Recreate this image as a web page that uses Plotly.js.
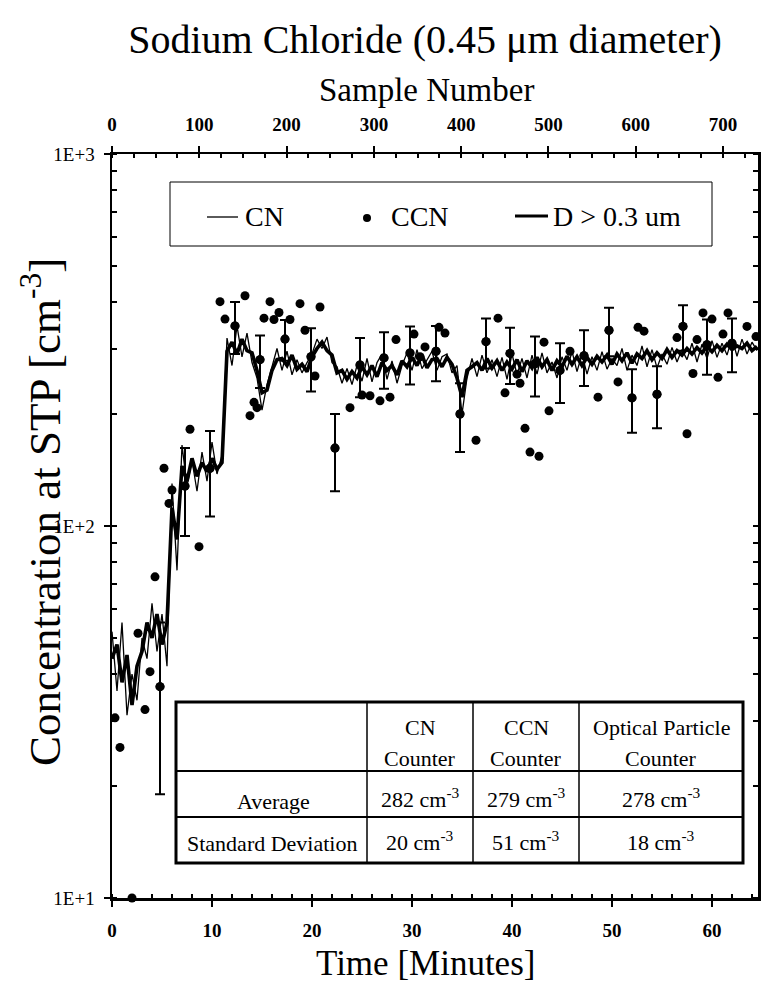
<!DOCTYPE html>
<html>
<head>
<meta charset="utf-8">
<script src="https://cdn.plot.ly/plotly-3.0.1.min.js"></script>
<style>
  html, body { margin: 0; padding: 0; background: #fff; }
  #chart { width: 761px; height: 990px; }
</style>
</head>
<body>
<div id="chart"></div>
<script>
// ---------------- DATA ----------------
// Time grid of the two continuous records (minutes, every 0.5 min)
const lineTime = Array.from({length: 130}, (_, i) => i * 0.5);

// CN counter (thin line), cm^-3
const cnValues = [
  52, 36, 55, 31, 40, 34, 50, 44, 62, 46,
  58, 42, 130, 76, 165, 128, 150, 124, 158, 132,
  168, 138, 155, 320, 270, 345, 285, 330, 275, 250,
  205, 240, 268, 300, 262, 295, 255, 280, 258, 275,
  290, 318, 300, 322, 275, 268, 242, 265, 240, 270,
  245, 282, 244, 275, 290, 248, 278, 242, 270, 292,
  262, 298, 265, 280, 295, 262, 285, 290, 258, 270,
  200, 250, 282, 252, 288, 258, 280, 252, 284, 248,
  290, 255, 282, 250, 288, 256, 292, 258, 276, 250,
  285, 262, 295, 260, 290, 256, 285, 262, 294, 264,
  282, 270, 300, 262, 288, 270, 305, 268, 298, 266,
  290, 272, 302, 276, 298, 280, 310, 276, 308, 282,
  315, 284, 310, 288, 320, 286, 318, 290, 312, 296
];

// Optical particle counter, D > 0.3 um (thick line), cm^-3
const opcValues = [
  44, 48, 38, 45, 33, 42, 46, 55, 50, 58,
  48, 55, 112, 92, 145, 132, 152, 136, 148, 140,
  152, 142, 148, 295, 312, 290, 318, 296, 292, 262,
  228, 232, 262, 280, 282, 270, 288, 264, 272, 260,
  285, 300, 312, 296, 288, 258, 262, 248, 260, 250,
  268, 255, 270, 252, 275, 262, 270, 255, 278, 268,
  284, 270, 288, 266, 280, 282, 268, 284, 272, 250,
  222, 262, 268, 275, 262, 282, 266, 278, 262, 276,
  264, 280, 260, 278, 266, 284, 268, 280, 262, 278,
  268, 286, 272, 285, 270, 284, 272, 286, 276, 288,
  272, 290, 278, 292, 274, 290, 282, 296, 280, 292,
  282, 298, 284, 296, 288, 300, 290, 302, 292, 304,
  294, 306, 296, 308, 298, 305, 300, 310, 296, 304
];

// CCN counter samples (dots); ccnErr = error-bar half length (0 = no bar)
const ccnTime = [
  0.3, 0.8, 2.0, 2.6, 3.3, 3.8, 4.3, 4.8, 5.2, 5.7, 6.0, 7.3, 7.8, 8.7, 9.8,
  10.8, 11.3, 12.3, 13.3, 13.8, 14.2, 14.5, 14.8, 15.2, 15.8, 16.2, 16.7, 17.3, 17.8,
  18.8, 19.3, 19.9, 20.3, 20.8, 22.3, 23.8, 24.8, 25.0, 25.8, 26.8, 27.2, 27.8, 28.4,
  29.8, 30.2, 30.8, 31.3, 32.4, 32.7, 33.3, 34.8, 36.4, 37.4, 38.6, 39.3, 39.8, 40.5,
  40.8, 41.3, 41.8, 42.3, 42.7, 43.2, 43.7, 44.8, 45.8, 47.2, 48.6, 49.7, 50.6, 52.0,
  52.6, 53.2, 54.5, 56.5, 57.1, 57.5, 58.1, 58.5, 59.1, 59.5, 60.0, 60.6, 61.1, 61.6,
  62.0, 63.5, 64.4
];
const ccnValue = [
  30.5, 25.4, 10, 51.5, 32.1, 40.6, 73, 37, 143, 115, 125, 128, 182, 88, 143,
  401, 360, 345, 416, 198, 215, 208, 280, 362, 401, 359, 375, 318, 359,
  396, 336, 285, 253, 388, 162, 208, 271, 225, 224, 217, 283, 222, 317,
  292, 328, 285, 303, 295, 342, 330, 200, 170, 313, 362, 228, 291, 256,
  242, 183, 158, 273, 154, 312, 204, 262, 295, 287, 222, 336, 244, 221,
  342, 334, 226, 321, 344, 177, 257, 317, 374, 307, 360, 251, 328, 374,
  310, 344, 323
];
const ccnErr = [
  0, 0, 0, 0, 0, 0, 0, 18, 0, 0, 0, 34, 0, 0, 37,
  0, 0, 55, 0, 0, 0, 0, 45, 0, 0, 0, 0, 40, 0,
  0, 0, 55, 0, 0, 38, 0, 49, 0, 0, 0, 49, 0, 0,
  52, 0, 0, 0, 50, 0, 0, 42, 0, 48, 0, 0, 50, 0,
  0, 0, 0, 50, 0, 0, 0, 48, 0, 49, 0, 50, 0, 43,
  0, 0, 43, 0, 48, 0, 0, 0, 0, 52, 0, 0, 0, 0,
  51, 0, 0
];

// Summary table
const tableColumns = [["CN", "Counter"], ["CCN", "Counter"], ["Optical Particle", "Counter"]];
const tableRowLabels = ["Average", "Standard Deviation"];
const tableAverage = [282, 279, 278];
const tableStdDev = [20, 51, 18];

// Axis ticks
const timeTicks = [0, 10, 20, 30, 40, 50, 60];
const sampleTicks = [0, 100, 200, 300, 400, 500, 600, 700];
const concTicks = [10, 100, 1000];
const concTickText = ["1E+1", "1E+2", "1E+3"];

// ---------------- LAYOUT HELPERS ----------------
const W = 761, H = 990;
const L = 112, R = 758, T = 154, B = 898;
const px = x => (x - L) / (R - L);
const py = y => (B - y) / (B - T);
const SERIF = "Liberation Serif, Times New Roman, serif";

const barIdx = ccnErr.map((e, i) => e > 0 ? i : -1).filter(i => i >= 0);

const traces = [
  {
    x: lineTime, y: cnValues, type: 'scatter', mode: 'lines', name: 'CN',
    line: {color: '#000', width: 1.3}, showlegend: false, xaxis: 'x', yaxis: 'y'
  },
  {
    x: lineTime, y: opcValues, type: 'scatter', mode: 'lines', name: 'D > 0.3 um',
    line: {color: '#000', width: 3.6}, showlegend: false, xaxis: 'x', yaxis: 'y'
  },
  {
    x: barIdx.map(i => ccnTime[i]), y: barIdx.map(i => ccnValue[i]),
    type: 'scatter', mode: 'markers', name: 'CCN error',
    marker: {color: '#000', size: 9},
    error_y: {type: 'data', array: barIdx.map(i => ccnErr[i]), visible: true,
              color: '#000', thickness: 2, width: 5},
    showlegend: false, xaxis: 'x', yaxis: 'y'
  },
  {
    x: ccnTime, y: ccnValue, type: 'scatter', mode: 'markers', name: 'CCN',
    marker: {color: '#000', size: 9}, cliponaxis: false,
    showlegend: false, xaxis: 'x', yaxis: 'y'
  },
  // invisible trace to activate the top (sample number) axis
  {
    x: [0, 740], y: [null, null], type: 'scatter', mode: 'markers',
    xaxis: 'x2', yaxis: 'y', showlegend: false, hoverinfo: 'skip'
  }
];

const shapes = [];
const annotations = [];

// Legend box
shapes.push({type: 'rect', xref: 'paper', yref: 'paper',
  x0: px(170), x1: px(712), y0: py(246), y1: py(182),
  line: {color: '#000', width: 1}, fillcolor: '#fff', layer: 'above'});
shapes.push({type: 'line', xref: 'paper', yref: 'paper',
  x0: px(207), x1: px(238), y0: py(217), y1: py(217), line: {color: '#000', width: 1.3}});
shapes.push({type: 'circle', xref: 'paper', yref: 'paper',
  x0: px(363), x1: px(371), y0: py(222), y1: py(214), fillcolor: '#000', line: {color: '#000', width: 0}});
shapes.push({type: 'line', xref: 'paper', yref: 'paper',
  x0: px(515), x1: px(548), y0: py(216), y1: py(216), line: {color: '#000', width: 3}});
const legendItems = [["CN", 243], ["CCN", 389], ["D &gt; 0.3 um", 551]];
legendItems.forEach(([t, x]) => annotations.push({
  text: t, xref: 'paper', yref: 'paper', x: px(x), y: py(216),
  xanchor: 'left', yanchor: 'middle', showarrow: false,
  font: {family: SERIF, size: 28, color: '#000'}
}));

// Table
const tX = [176, 367, 473, 579, 743];
const tY = [702, 771, 817, 863];
shapes.push({type: 'rect', xref: 'paper', yref: 'paper',
  x0: px(tX[0]), x1: px(tX[4]), y0: py(tY[3]), y1: py(tY[0]),
  line: {color: '#000', width: 3}, fillcolor: '#fff', layer: 'above'});
[tY[1], tY[2]].forEach(y => shapes.push({type: 'line', xref: 'paper', yref: 'paper',
  x0: px(tX[0]), x1: px(tX[4]), y0: py(y), y1: py(y), line: {color: '#000', width: 2}, layer: 'above'}));
[tX[1], tX[2], tX[3]].forEach(x => shapes.push({type: 'line', xref: 'paper', yref: 'paper',
  x0: px(x), x1: px(x), y0: py(tY[3]), y1: py(tY[0]), line: {color: '#000', width: 1.5}, layer: 'above'}));

const tfont = {family: SERIF, size: 22, color: '#000'};
function cell(text, x, y) {
  annotations.push({text, xref: 'paper', yref: 'paper', x: px(x), y: py(y),
    xanchor: 'center', yanchor: 'middle', showarrow: false, font: tfont});
}
tableColumns.forEach((lines, j) => {
  const cx = (tX[j + 1] + tX[j + 2]) / 2;
  cell(lines[0], cx, 727);
  cell(lines[1], cx, 758);
});
cell(tableRowLabels[0], (tX[0] + tX[1]) / 2 + 2, 801);
cell(tableRowLabels[1], (tX[0] + tX[1]) / 2, 843);
tableAverage.forEach((v, j) => cell(v + " cm<sup>-3</sup>", (tX[j + 1] + tX[j + 2]) / 2, 798));
tableStdDev.forEach((v, j) => cell(v + " cm<sup>-3</sup>", (tX[j + 1] + tX[j + 2]) / 2, 841));

// Axis titles, placed as in the figure
annotations.push({
  text: 'Concentration at STP [cm<sup>-3</sup>]', xref: 'paper', yref: 'paper',
  x: px(41), y: py(512), xanchor: 'center', yanchor: 'middle', textangle: -90,
  showarrow: false, font: {family: SERIF, size: 45, color: '#000'}
});
annotations.push({
  text: 'Sample Number', xref: 'paper', yref: 'paper',
  x: px(426), y: py(90), xanchor: 'center', yanchor: 'middle',
  showarrow: false, font: {family: SERIF, size: 33, color: '#000'}
});
annotations.push({
  text: 'Time [Minutes]', xref: 'paper', yref: 'paper',
  x: px(425), y: py(964), xanchor: 'center', yanchor: 'middle',
  showarrow: false, font: {family: SERIF, size: 35, color: '#000'}
});

const tickFont = {family: SERIF, size: 19, color: '#000', weight: 'bold'};

const layout = {
  width: W, height: H,
  margin: {l: L, r: W - R, t: T, b: H - B, pad: 0},
  paper_bgcolor: '#fff', plot_bgcolor: '#fff',
  showlegend: false,
  title: {
    text: 'Sodium Chloride (0.45 μm diameter)',
    font: {family: SERIF, size: 40, color: '#000'},
    xref: 'container', yref: 'container', x: 425 / W, y: 1 - 39 / H,
    xanchor: 'center', yanchor: 'middle'
  },
  xaxis: {
    range: [0, 64.6], tickvals: timeTicks, ticks: 'outside', ticklen: 6, tickwidth: 2,
    tickcolor: '#000', showline: true, linecolor: '#000', linewidth: 2.5, mirror: false,
    showgrid: false, zeroline: false, tickfont: tickFont, ticklabelstandoff: 8,
    minor: {dtick: 2, ticks: 'inside', ticklen: 4, tickwidth: 2, tickcolor: '#000', showgrid: false}
  },
  xaxis2: {
    overlaying: 'x', side: 'top', anchor: 'y', range: [0, 740], tickvals: sampleTicks,
    ticks: 'outside', ticklen: 6, tickwidth: 2, tickcolor: '#000',
    showline: true, linecolor: '#000', linewidth: 2.5,
    showgrid: false, zeroline: false, tickfont: tickFont, ticklabelstandoff: 7,
    minor: {dtick: 25, ticks: 'inside', ticklen: 4, tickwidth: 2, tickcolor: '#000', showgrid: false}
  },
  yaxis: {
    type: 'log', range: [1, 3], tickvals: concTicks, ticktext: concTickText,
    ticks: 'outside', ticklen: 6, tickwidth: 2, tickcolor: '#000',
    showline: true, linecolor: '#000', linewidth: 2.5, mirror: 'ticks',
    showgrid: false, zeroline: false, ticklabelstandoff: 5,
    tickfont: {family: SERIF, size: 19, color: '#000'},
    minor: {dtick: 'D1', ticks: 'inside', ticklen: 5, tickwidth: 2, tickcolor: '#000', showgrid: false}
  },
  shapes, annotations
};

Plotly.newPlot('chart', traces, layout, {staticPlot: true, displayModeBar: false});
</script>
</body>
</html>
